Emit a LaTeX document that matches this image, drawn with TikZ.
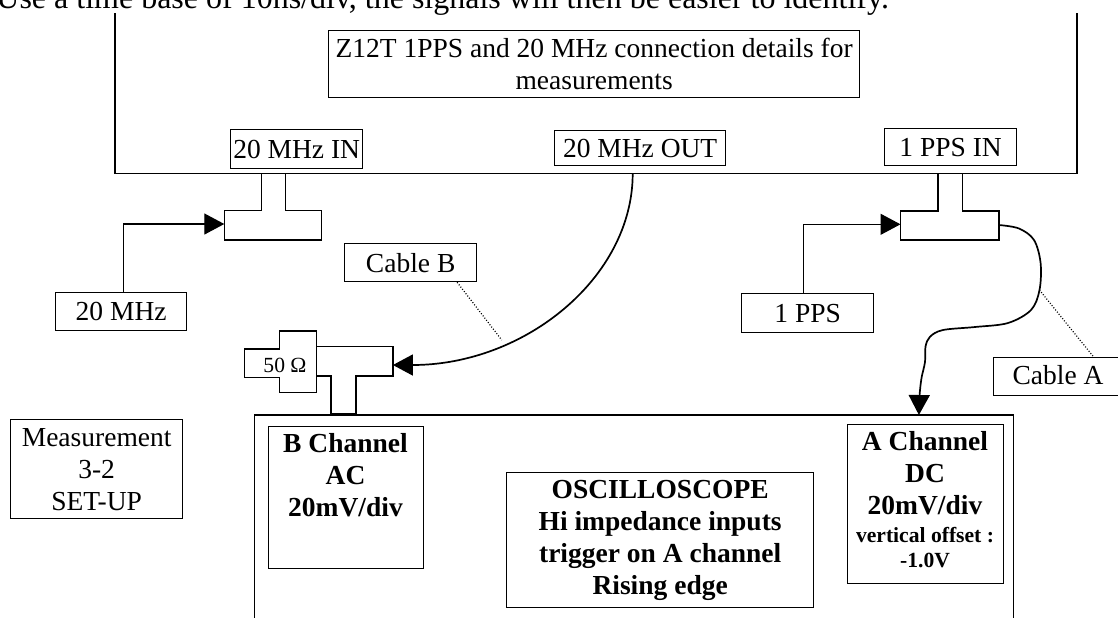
\documentclass[tikz,border=0pt]{standalone}
\usepackage{fontspec}
\setmainfont{Liberation Serif}
\usetikzlibrary{arrows.meta}
\begin{document}
\begin{tikzpicture}[x=0.5pt,y=-0.5pt,
  box/.style={draw, line width=0.65pt, inner sep=0pt, anchor=north west},
  lbl/.style={font=\fontsize{13.75}{16}\selectfont, align=center, inner sep=0pt},
  blbl/.style={font=\fontsize{13.75}{16}\selectfont\bfseries, align=center, inner sep=0pt},
  slbl/.style={font=\fontsize{10.8}{12.2}\selectfont, align=center, inner sep=0pt},
  sblbl/.style={font=\fontsize{10.8}{12.2}\selectfont\bfseries, align=center, inner sep=0pt},
  wire/.style={line width=0.65pt},
  cable/.style={line width=0.85pt},
  tip/.style={-{Triangle[length=10pt,width=10.5pt]}},
  lead/.style={line width=0.6pt, dash pattern=on 0.5pt off 0.9pt},
]
\useasboundingbox (0,0) rectangle (1118,617);
\clip (0,0) rectangle (1118,617);

\node[anchor=base west, inner sep=0pt, font=\fontsize{16}{19}\selectfont] (note) at (-4,8) {Use a time base of 10ns/div, the signals will then be easier to identify.};

% Z12T unit
\draw[wire] (115,13) -- (115,173.5) -- (1077,173.5) -- (1077,13);
\node[box, lbl, minimum width=265.5pt, minimum height=33.5pt] (z12t) at (328,30) {Z12T 1PPS and 20 MHz connection details for\\measurements};
\node[box, lbl, minimum width=66pt, minimum height=19.5pt] (in20) at (230,129) {20 MHz IN};
\node[box, lbl, minimum width=85.5pt, minimum height=17.5pt] (out20) at (554,130) {20 MHz OUT};
\node[box, lbl, minimum width=66pt, minimum height=18.5pt] (ppsin) at (884,128) {1 PPS IN};

% T connectors on the unit
\draw[wire] (261.8,173.5) -- (261.8,210.7) -- (224.3,210.7) -- (224.3,240) -- (321.4,240) -- (321.4,210.7) -- (285.7,210.7) -- (285.7,173.5);
\coordinate (t1in) at (224.3,224);
\draw[wire] (938,173.5) -- (938,211) -- (900.5,211) -- (900.5,240) -- (998.9,240) -- (998.9,211) -- (962.8,211) -- (962.8,173.5);
\coordinate (t3in) at (900.5,224.3);
\coordinate (t3out) at (998.9,225);

% sources and labels
\node[box, lbl, minimum width=65.5pt, minimum height=18.75pt] (m20) at (55,292) {20 MHz};
\node[box, lbl, minimum width=66pt, minimum height=19.5pt] (pps1) at (741,293) {1 PPS};
\node[box, lbl, minimum width=66pt, minimum height=19pt] (cableb) at (344,243) {Cable B};
\node[box, minimum width=100pt, minimum height=18.75pt] (cablea) at (993,357) {};
\node[lbl, anchor=base] (cableatxt) at (1058,384) {Cable A};

\draw[wire, tip] ([xshift=1.3pt]m20.north) |- (t1in);
\draw[wire, tip] ([xshift=-2pt]pps1.north) |- (t3in);

% terminator and T on channel B
\draw[wire] (244.6,349) -- (279.6,349) -- (279.6,331) -- (316.8,331) -- (316.8,392.7) -- (279.6,392.7) -- (279.6,377.3) -- (244.6,377.3) -- cycle;
\node[slbl, anchor=base] (ohm) at (285,372.5) {50 Ω};
\draw[wire] (316.8,346.7) -- (392.9,346.7) -- (392.9,376) -- (356,376) -- (356,413.3) -- (331,413.3) -- (331,376) -- (316.8,376);
\coordinate (t2in) at (392.9,365);

% oscilloscope
\draw[wire] (254.6,630) -- (254.6,415) -- (1013.6,415) -- (1013.6,630);
\coordinate (achin) at (918.9,415);
\node[box, minimum width=77.5pt, minimum height=71pt] (bch) at (268,426) {};
\node[blbl, anchor=north] (bchtxt) at (345.5,433) {B Channel\\AC\\20mV/div};
\node[box, minimum width=78pt, minimum height=79.5pt] (ach) at (847,424) {};
\node[blbl, anchor=north] (achtxt) at (925,431.2) {A Channel\\DC\\20mV/div};
\node[sblbl, anchor=north] (achoff) at (925,527) {vertical offset :\\-1.0V};
\node[box, blbl, minimum width=153.5pt, minimum height=67.5pt] (osc) at (506,472) {OSCILLOSCOPE\\Hi impedance inputs\\trigger on A channel\\Rising edge};
\node[box, lbl, minimum width=86pt, minimum height=49.5pt] (meas) at (10,419) {Measurement\\3-2\\SET-UP};

% cables
\coordinate (outb) at (632.7,173.5);
\draw[cable, tip] (outb) to[out=-90, in=0, out distance=52pt, in distance=66pt] (t2in);
\draw[cable, tip] plot[smooth, tension=0.55] coordinates {(t3out) (1019,228.5) (1034,240) (1040.6,263) (1039.5,290) (1031,310) (1008,323) (975,327) (943,330) (930,336.7) (925.5,346.7) (925,362) (921.5,378) (919.5,396) (achin)};

% leaders
\coordinate (cbmid) at (501.7,340);
\draw[lead] ([xshift=23.25pt]cableb.south) -- (cbmid);
\coordinate (camid) at (1039.4,290);
\draw[lead] (camid) -- (cablea.north);
\end{tikzpicture}
\end{document}
